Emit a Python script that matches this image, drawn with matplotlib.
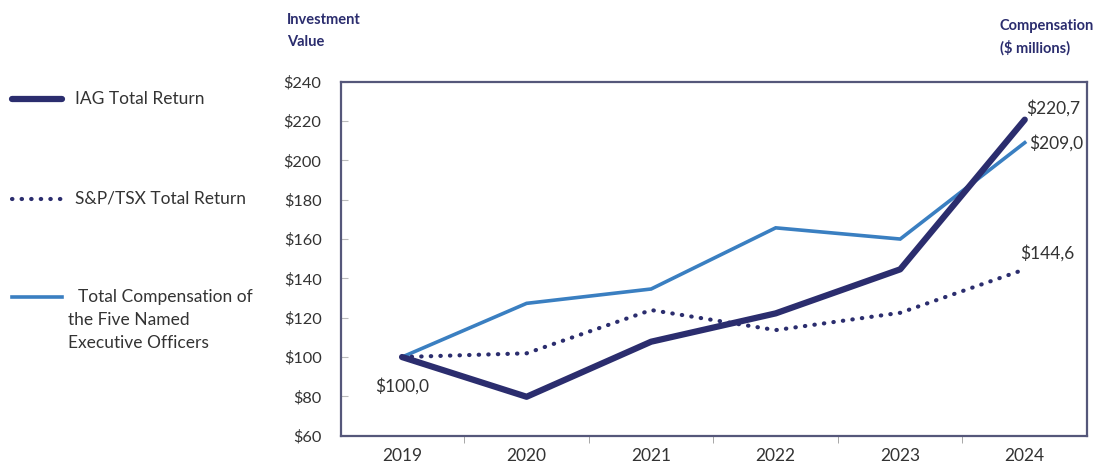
import matplotlib
matplotlib.use("Agg")
import matplotlib.pyplot as plt
from matplotlib.lines import Line2D

plt.rcParams['font.family'] = ['Lato', 'DejaVu Sans']

# données
years = ["2019", "2020", "2021", "2022", "2023", "2024"]
iag = [100.0, 79.8, 107.8, 122.2, 144.6, 220.7]
tsx = [100.0, 101.9, 123.9, 113.7, 122.5, 144.6]
comp = [100.0, 127.3, 134.6, 165.7, 160.0, 209.0]
y_ticks = [60, 80, 100, 120, 140, 160, 180, 200, 220, 240]

navy = "#2b2d6e"
blue = "#3a7fc1"
txt = "#333333"
frame = "#55577a"

fig = plt.figure(figsize=(10.99, 4.68), dpi=100)
ax = fig.add_axes([0.3103, 0.069, 0.6788, 0.7564])

x = list(range(len(years)))
ax.plot(x, comp, color=blue, lw=2.6, solid_joinstyle="miter", zorder=3)
ax.plot(x, tsx, color=navy, lw=3, linestyle=(0, (0.1, 2.2)), dash_capstyle="round", zorder=4)
ax.plot(x, iag, color=navy, lw=4.5, solid_capstyle="round", zorder=5)

ax.set_xlim(-0.49, 5.5)
ax.set_ylim(60, 240)
ax.set_yticks(y_ticks)
ax.set_yticklabels([f"${v}" for v in y_ticks], fontsize=11.8, color=txt)
ax.tick_params(axis="y", direction="in", length=5, color="#bbbbbb", pad=14)

# années au centre, petits traits entre les catégories
ax.set_xticks(x)
ax.set_xticklabels(years, fontsize=12.5, color=txt)
ax.set_xticks([i + 0.5 for i in x[:-1]], minor=True)
ax.tick_params(axis="x", which="major", length=0, pad=9)
ax.tick_params(axis="x", which="minor", direction="out", length=5, color="#999999")

for s in ax.spines.values():
    s.set_color(frame)
    s.set_linewidth(1.6)

# étiquettes de valeurs
def lab(v):
    return f"${v:.1f}".replace(".", ",")

ax.annotate(lab(iag[0]), (0, iag[0]), xytext=(-19, -25),
            textcoords="offset points", fontsize=12.5, color=txt)
ax.annotate(lab(iag[-1]), (5, iag[-1]), xytext=(1, 4),
            textcoords="offset points", fontsize=12.5, color=txt)
ax.annotate(lab(comp[-1]), (5, comp[-1]), xytext=(3, -4),
            textcoords="offset points", fontsize=12.5, color=txt)
ax.annotate(lab(tsx[-1]), (5, tsx[-1]), xytext=(-3, 8),
            textcoords="offset points", fontsize=12.5, color=txt)

# titres des axes
fig.text(287 / 1099, 1 - 31 / 468, "Investment\nValue", fontsize=10.5, fontweight="bold",
         color=navy, ha="left", va="center", linespacing=1.75)
fig.text(1000 / 1099, 1 - 37 / 468, "Compensation\n($ millions)", fontsize=10.5, fontweight="bold",
         color=navy, ha="left", va="center", linespacing=1.6)

# légende à gauche
def legend_item(y_px, style, label, tx=75):
    yy = 1 - y_px / 468
    fig.add_artist(Line2D([12 / 1099, 62 / 1099], [yy, yy], transform=fig.transFigure, **style))
    fig.text(tx / 1099, yy, label, fontsize=12.5, color=txt, ha="left", va="center")

legend_item(99, dict(color=navy, lw=4.5, solid_capstyle="round"), "IAG Total Return")
legend_item(199, dict(color=navy, lw=3, linestyle=(0, (0.1, 2.2)), dash_capstyle="round"),
            "S&P/TSX Total Return")
yy = 1 - 297 / 468
fig.add_artist(Line2D([12 / 1099, 62 / 1099], [yy, yy], transform=fig.transFigure, color=blue, lw=2.6))
fig.text(78 / 1099, yy, "Total Compensation of", fontsize=12.5, color=txt, ha="left", va="center")
fig.text(68 / 1099, 1 - 320 / 468, "the Five Named", fontsize=12.5, color=txt, ha="left", va="center")
fig.text(68 / 1099, 1 - 343 / 468, "Executive Officers", fontsize=12.5, color=txt, ha="left", va="center")

fig.savefig("out.png", dpi=100)
